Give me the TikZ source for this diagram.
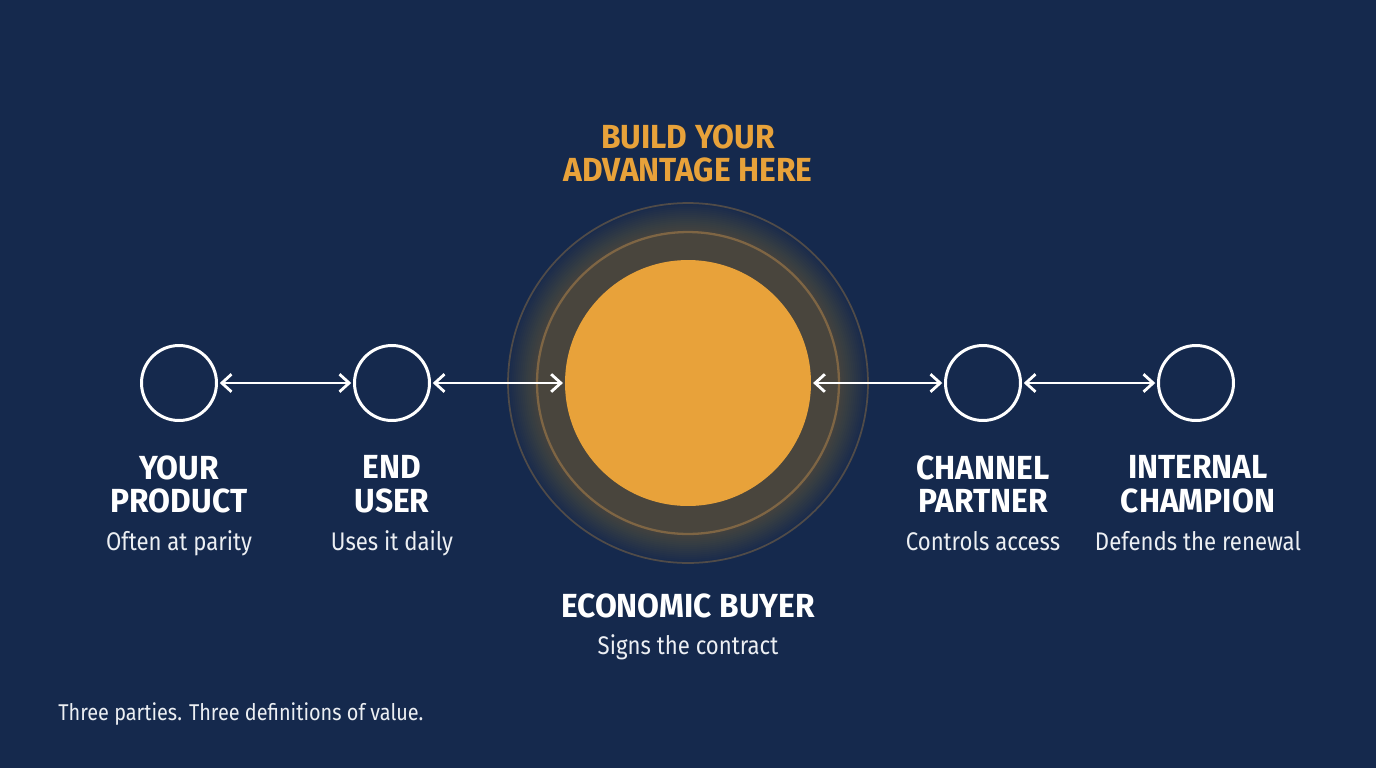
\documentclass[tikz,border=0pt]{standalone}
\usepackage{fontspec}
\setmainfont{Fira Sans}[FakeStretch=0.87, BoldFeatures={FakeStretch=0.95}]
\usetikzlibrary{arrows.meta}
\definecolor{navybg}{RGB}{21,41,77}
\definecolor{gold}{RGB}{232,162,58}
\definecolor{softwhite}{RGB}{236,239,243}

\begin{document}
\begin{tikzpicture}[x=0.02cm, y=-0.02cm,
  ring/.style={circle, draw=white, line width=1.7pt, minimum size=1.5cm, inner sep=0},
  hub/.style={circle, fill=gold, minimum size=4.92cm, inner sep=0},
  link/.style={{Straight Barb[length=5.5pt,width=10pt]}-{Straight Barb[length=5.5pt,width=10pt]},
    white, line width=1.6pt, shorten <=1pt, shorten >=1pt},
  head/.style={font=\bfseries\fontsize{19}{19.3}\selectfont, text=white, align=center,
    inner sep=0, anchor=north},
  sub/.style={font=\fontsize{14.5}{17}\selectfont, text=softwhite, inner sep=0, anchor=base}]

  % 背景
  \fill[navybg] (0,0) rectangle (1376,768);

  % 中央の光輪 (外側から重ねて徐々に明るく)
  \coordinate (C) at (688,383);
  \foreach \k in {0,...,14}
    \fill[gold, opacity=0.02] (C) circle[radius={3.6cm-\k*0.04cm}];
  \fill[gold, opacity=0.03] (C) circle[radius=3.02cm];
  \draw[gold!50!navybg, line width=1.3pt] (C) circle[radius=3.02cm];
  \draw[gold!28!navybg, line width=1pt] (C) circle[radius=3.6cm];

  % 各ノード
  \node[ring] (prod)  at (179,383) {};
  \node[ring] (user)  at (392,383) {};
  \node[hub]  (buyer) at (C) {};
  \node[ring] (chan)  at (983,383) {};
  \node[ring] (champ) at (1196,383) {};

  % 矢印
  \draw[link] (prod) -- (user);
  \draw[link] (user) -- (buyer);
  \draw[link] (buyer) -- (chan);
  \draw[link] (chan) -- (champ);

  % 見出し
  \node[head, text=gold] (goal) at (688,124) {BUILD YOUR\\ADVANTAGE HERE};

  % ラベル
  \node[head] (prodname)  at (179,455)  {YOUR\\PRODUCT};
  \node[head] (username)  at (392,455)  {END\\USER};
  \node[head] (buyername) at (688,593)  {ECONOMIC BUYER};
  \node[head] (channame)  at (983,455)  {CHANNEL\\PARTNER};
  \node[head] (champname) at (1198,455) {INTERNAL\\CHAMPION};

  \node[sub] (prodnote)  at (179,550)  {Often at parity};
  \node[sub] (usernote)  at (392,550)  {Uses it daily};
  \node[sub] (buyernote) at (688,654)  {Signs the contract};
  \node[sub] (channote)  at (983,550)  {Controls access};
  \node[sub] (champnote) at (1198,550) {Defends the renewal};

  % 脚注
  \node[font=\fontsize{13}{15}\selectfont, text=softwhite, anchor=base west, inner sep=0]
    (footer) at (58,720) {Three parties. Three definitions of value.};
\end{tikzpicture}
\end{document}
